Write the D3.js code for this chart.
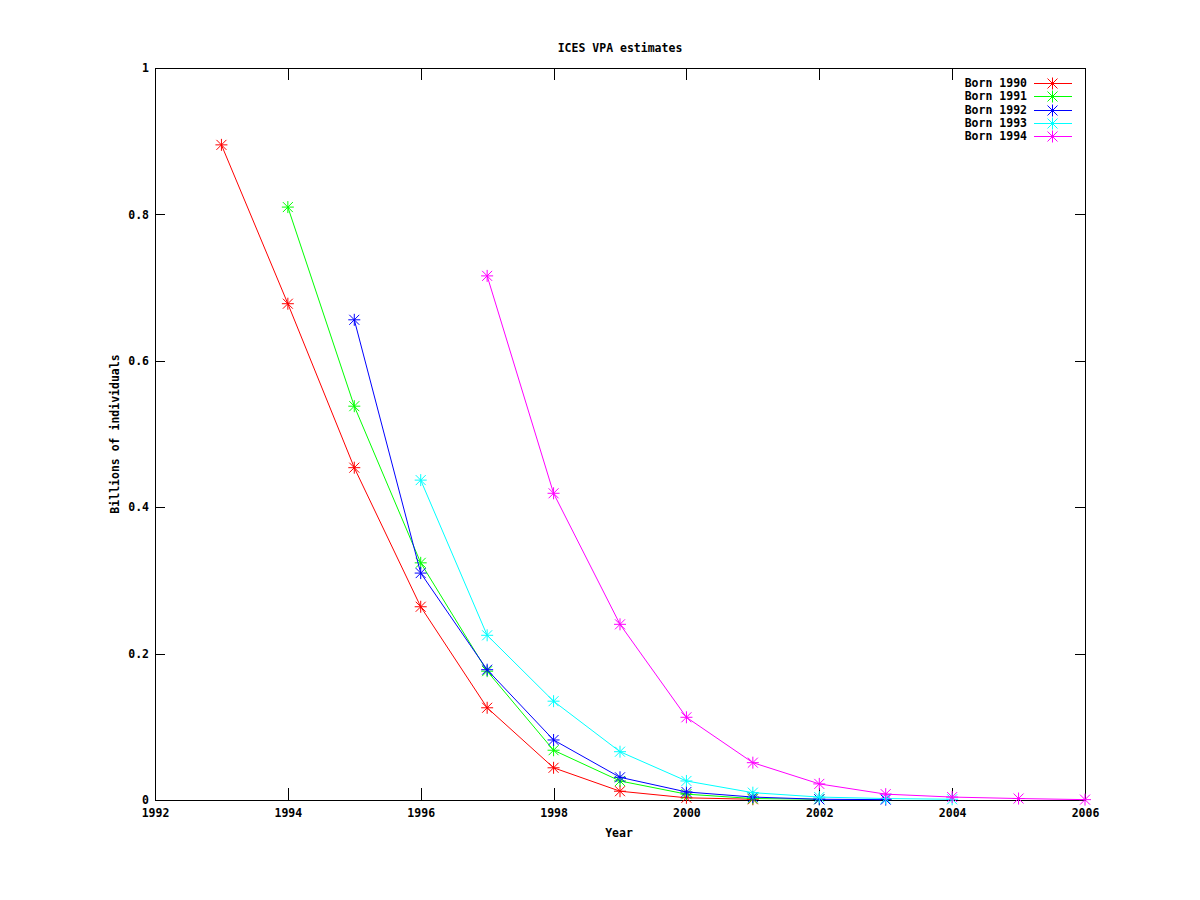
<!DOCTYPE html>
<html>
<head>
<meta charset="utf-8">
<script src="https://cdn.jsdelivr.net/npm/d3@7"></script>
<style>
  html, body { margin: 0; padding: 0; background: #fff; }
  svg text { font-family: "DejaVu Sans Mono", "Liberation Mono", monospace; font-weight: bold; font-size: 11.5px; fill: #000; }
</style>
</head>
<body>
<script>
// ---- data ----
const seriesNames = ["Born 1990", "Born 1991", "Born 1992", "Born 1993", "Born 1994"];
const seriesColors = ["#ff0000", "#00ff00", "#0000ff", "#00ffff", "#ff00ff"];
const years1990 = [1993, 1994, 1995, 1996, 1997, 1998, 1999, 2000, 2001];
const values1990 = [0.895, 0.678, 0.454, 0.264, 0.126, 0.044, 0.012, 0.003, 0.001];
const years1991 = [1994, 1995, 1996, 1997, 1998, 1999, 2000, 2001, 2002];
const values1991 = [0.810, 0.538, 0.324, 0.176, 0.068, 0.026, 0.008, 0.002, 0.001];
const years1992 = [1995, 1996, 1997, 1998, 1999, 2000, 2001, 2002, 2003];
const values1992 = [0.656, 0.310, 0.178, 0.082, 0.031, 0.011, 0.004, 0.001, 0.0005];
const years1993 = [1996, 1997, 1998, 1999, 2000, 2001, 2002, 2003, 2004];
const values1993 = [0.437, 0.225, 0.135, 0.066, 0.026, 0.010, 0.004, 0.002, 0.001];
const years1994 = [1997, 1998, 1999, 2000, 2001, 2002, 2003, 2004, 2005, 2006];
const values1994 = [0.716, 0.419, 0.240, 0.113, 0.051, 0.022, 0.008, 0.004, 0.002, 0.0005];
const xTicks = [1992, 1994, 1996, 1998, 2000, 2002, 2004, 2006];
const yTicks = [0, 0.2, 0.4, 0.6, 0.8, 1];
const titleText = "ICES VPA estimates";
const xLabel = "Year";
const yLabel = "Billions of individuals";

const allYears = [years1990, years1991, years1992, years1993, years1994];
const allValues = [values1990, values1991, values1992, values1993, values1994];

// ---- layout ----
const W = 1200, H = 900;
const L = 155, R = 1085, T = 68, B = 800;

const svg = d3.select("body").append("svg").attr("width", W).attr("height", H);

const x = d3.scaleLinear().domain([1992, 2006]).range([L, R]);
const y = d3.scaleLinear().domain([0, 1]).range([B, T]);

// ticks (inward, mirrored)
const tickG = svg.append("g").attr("shape-rendering", "crispEdges").attr("stroke", "#000").attr("stroke-width", 1);
xTicks.forEach(v => {
  const px = Math.round(x(v)) + 0.5;
  tickG.append("line").attr("x1", px).attr("x2", px).attr("y1", B).attr("y2", B - 12);
  tickG.append("line").attr("x1", px).attr("x2", px).attr("y1", T).attr("y2", T + 12);
});
yTicks.forEach(v => {
  const py = Math.round(y(v)) + 0.5;
  tickG.append("line").attr("y1", py).attr("y2", py).attr("x1", L).attr("x2", L + 10);
  tickG.append("line").attr("y1", py).attr("y2", py).attr("x1", R).attr("x2", R - 10);
});

// axes via d3 for labels
const xAxis = d3.axisBottom(x).tickValues(xTicks).tickFormat(d3.format("d")).tickSize(0).tickPadding(9);
const gx = svg.append("g").attr("transform", `translate(0,${B})`).call(xAxis);
gx.select(".domain").remove();

const yAxis = d3.axisLeft(y).tickValues(yTicks).tickFormat(d => d === 0 ? "0" : (d === 1 ? "1" : d3.format(".1f")(d))).tickSize(0).tickPadding(6);
const gy = svg.append("g").attr("transform", `translate(${L},0)`).call(yAxis);
gy.select(".domain").remove();
svg.selectAll(".tick text").attr("font-family", null).attr("font-size", null);

// border
svg.append("rect").attr("x", L + 0.5).attr("y", T + 0.5).attr("width", R - L).attr("height", B - T)
  .attr("fill", "none").attr("stroke", "#000").attr("stroke-width", 1).attr("shape-rendering", "crispEdges");

// titles
svg.append("text").attr("x", 620).attr("y", 52).attr("text-anchor", "middle").text(titleText);
svg.append("text").attr("x", 619).attr("y", 837).attr("text-anchor", "middle").text(xLabel);
svg.append("text").attr("transform", `translate(119,434) rotate(-90)`).attr("text-anchor", "middle").text(yLabel);

// marker drawing (gnuplot asterisk)
function asterisk(g, cx, cy, color) {
  const a = 6, d = 5;
  const p = `M${cx - a},${cy}H${cx + a}M${cx},${cy - a}V${cy + a}` +
            `M${cx - d},${cy - d}L${cx + d},${cy + d}M${cx - d},${cy + d}L${cx + d},${cy - d}`;
  g.append("path").attr("d", p).attr("stroke", color).attr("stroke-width", 1).attr("fill", "none");
}

const line = d3.line().x(d => x(d[0])).y(d => y(d[1]));
const plotG = svg.append("g");

seriesNames.forEach((name, i) => {
  const pts = allYears[i].map((yr, j) => [yr, allValues[i][j]]);
  plotG.append("path").datum(pts).attr("d", line).attr("fill", "none")
    .attr("stroke", seriesColors[i]).attr("stroke-width", 1);
  pts.forEach(p => asterisk(plotG, x(p[0]), y(p[1]), seriesColors[i]));
});

// legend
const legG = svg.append("g");
seriesNames.forEach((name, i) => {
  const ly = 83 + i * 13.3;
  legG.append("text").attr("x", 1027).attr("y", ly + 4).attr("text-anchor", "end").text(name);
  legG.append("line").attr("x1", 1034).attr("x2", 1072).attr("y1", Math.round(ly) + 0.5).attr("y2", Math.round(ly) + 0.5)
    .attr("stroke", seriesColors[i]).attr("stroke-width", 1).attr("shape-rendering", "crispEdges");
  asterisk(legG, 1052.5, Math.round(ly) + 0.5, seriesColors[i]);
});
</script>
</body>
</html>
